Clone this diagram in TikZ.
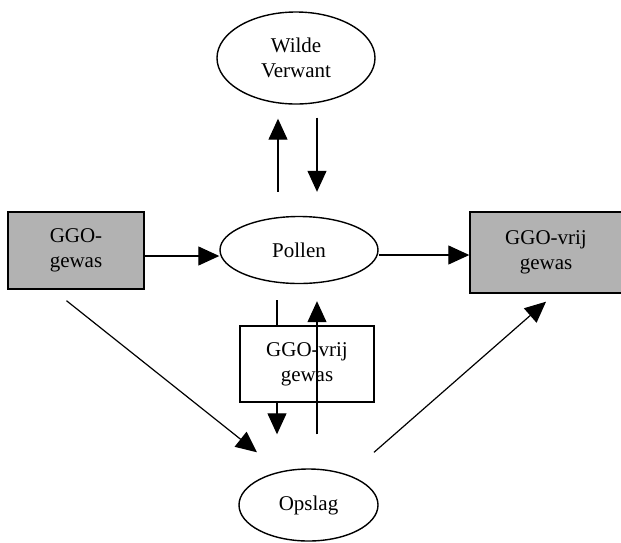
\documentclass[tikz,border=0pt]{standalone}
\usepackage{fontspec}
\setmainfont{Liberation Serif}
\usetikzlibrary{shapes.geometric,arrows.meta}
\tikzset{
    pijl/.style={-{Triangle[length=21pt,width=19pt]},line width=1.2pt},
    blok/.style={draw,line width=1.4pt,align=center,inner sep=0pt},
    wolk/.style={draw,ellipse,line width=1.4pt,align=center,inner sep=0pt},
}
\begin{document}
\begin{tikzpicture}[x=1pt,y=-1pt,font=\fontsize{21}{25}\selectfont]
    \useasboundingbox (0,0) rectangle (621,542);

    \node[wolk,minimum width=158pt,minimum height=92pt] (wilde) at (296,58) {Wilde\\Verwant};
    \node[wolk,minimum width=158pt,minimum height=67pt] (pollen) at (299,250) {Pollen};
    \node[wolk,minimum width=139pt,minimum height=72pt] (opslag) at (308.5,505) {Opslag};
    \node[blok,fill=black!30,minimum width=136pt,minimum height=77pt] (ggo) at (76,250.5) {GGO-\\gewas};
    \node[blok,fill=black!30,minimum width=152pt,minimum height=81pt] (vrij) at (546,252.5) {GGO-vrij\\gewas};

    \draw[pijl,shorten <=24pt,shorten >=14pt] ([xshift=-21pt]pollen.north) -- ([xshift=-18pt]wilde.south);
    \draw[pijl,shorten <=13pt,shorten >=24pt] ([xshift=21pt]wilde.south) -- ([xshift=18pt]pollen.north);
    \draw[pijl] ([yshift=-5.5pt]ggo.east) -- ([yshift=-6pt]pollen.west);
    \draw[pijl] ([yshift=-5pt]pollen.east) -- ([yshift=-2.5pt]vrij.west);
    \draw[pijl,shorten <=16pt,shorten >=34pt] ([xshift=-22pt]pollen.south) -- ([xshift=-31.5pt]opslag.north);

    \node[blok,fill=white,minimum width=134pt,minimum height=76pt] (tussen) at (307,364) {GGO-vrij\\gewas};

    \draw[pijl,shorten <=34pt,shorten >=17pt] ([xshift=8.5pt]opslag.north) -- ([xshift=18pt]pollen.south);
    \draw[pijl] ([shift={(-9.5,11)}]ggo.south) -- ([shift={(-51.5,-16)}]opslag.north);
    \draw[pijl] ([shift={(65.5,-16)}]opslag.north) -- ([shift={(0,8)}]vrij.south);
\end{tikzpicture}
\end{document}
